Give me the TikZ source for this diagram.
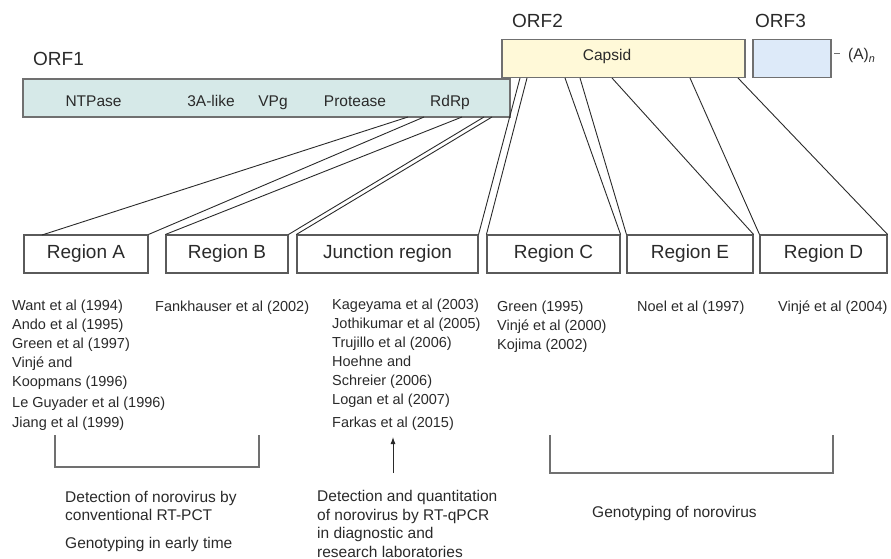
\documentclass[tikz,border=0pt]{standalone}
\usepackage{fontspec}
\setmainfont{Liberation Sans}
\usepackage{tikz}
\usetikzlibrary{arrows.meta}

\definecolor{orfonefill}{HTML}{D6E9E8}
\definecolor{orftwofill}{HTML}{FFF9D8}
\definecolor{orfthreefill}{HTML}{DDEAF9}
\definecolor{orfline}{HTML}{707070}
\definecolor{boxline}{HTML}{5A5A5A}
\definecolor{inkgray}{HTML}{2A2A2A}

\tikzset{
  orfbox/.style={draw=orfline, line width=1.2pt, minimum height=38pt, inner sep=0pt},
  regbox/.style={draw=boxline, line width=1.1pt, minimum height=38pt, inner sep=0pt,
    text=inkgray, font=\fontsize{19}{22}\selectfont},
  orflabel/.style={anchor=base west, inner sep=0pt, text=inkgray, font=\fontsize{19}{22}\selectfont},
  gene/.style={anchor=base, inner sep=0pt, text=inkgray, font=\fontsize{15.5}{18}\selectfont},
  reflist/.style={anchor=base west, align=left, inner sep=0pt, text=inkgray,
    font=\fontsize{14.5}{19}\selectfont},
  usage/.style={anchor=base west, align=left, inner sep=0pt, text=inkgray,
    font=\fontsize{15.5}{18.5}\selectfont},
  link/.style={draw=inkgray, line width=0.9pt},
  bracket/.style={draw=orfline, line width=1.3pt}
}

\begin{document}
\begin{tikzpicture}[x=1pt,y=-1pt]
    \useasboundingbox (0,0) rectangle (891,559);

    % genome
    \node[orfbox, fill=orfonefill, minimum width=487pt] (orf1) at (266.5,98) {};
    \node[orfbox, fill=orftwofill, minimum width=243pt] (orf2) at (623.5,58.5) {};
    \node[orfbox, fill=orfthreefill, minimum width=78pt] (orf3) at (792,58.5) {};

    \node[orflabel] (orf1lab) at (33,66) {ORF1};
    \node[orflabel] (orf2lab) at (512,28) {ORF2};
    \node[orflabel] (orf3lab) at (755,28) {ORF3};

    \node[gene] (ntpase) at (93.5,107) {NTPase};
    \node[gene] (threeA) at (211,107) {3A-like};
    \node[gene] (vpg) at (273,107) {VPg};
    \node[gene] (protease) at (355,107) {Protease};
    \node[gene] (rdrp) at (450,107) {RdRp};
    \node[gene] (capsid) at (607,61) {Capsid};
    \node[gene, anchor=base west] (polyA) at (848,60) {(A)\textsubscript{\textit{n}}};
    \draw[orfline, line width=1pt] (834,54) -- (840,54); % tail

    % regions
    \node[regbox, minimum width=124pt] (regA) at (86,254) {Region A};
    \node[regbox, minimum width=122pt] (regB) at (227,254) {\raisebox{-1.5pt}{Region B}};
    \node[regbox, minimum width=181pt] (regJ) at (387.5,254) {Junction region};
    \node[regbox, minimum width=133pt] (regC) at (553.5,254) {Region C};
    \node[regbox, minimum width=126pt] (regE) at (690,254) {Region E};
    \node[regbox, minimum width=127pt] (regD) at (823.5,254) {Region D};

    \coordinate (F1) at (408,117);
    \coordinate (F2) at (424,117);
    \coordinate (F3) at (462,117);
    \coordinate (F4) at (484,117);
    \coordinate (F5) at (492,117);
    \coordinate (G1) at (520,78);
    \coordinate (G2) at (527,78);
    \coordinate (G3) at (565,78);
    \coordinate (G4) at (580,78);
    \coordinate (G5) at (612,78);
    \coordinate (G6) at (690,78);
    \coordinate (G7) at (738,78);
    \coordinate (T0) at (42,235);

    \draw[link] (F1) -- (T0);
    \draw[link] (F2) -- (regA.north east);
    \draw[link] (F3) -- (regB.north west);
    \draw[link] (F4) -- (regB.north east);
    \draw[link] (F5) -- (regJ.north west);
    \draw[link] (G1) -- (regJ.north east);
    \draw[link] (G2) -- (regC.north west);
    \draw[link] (G3) -- (regC.north east);
    \draw[link] (G4) -- (regE.north west);
    \draw[link] (G5) -- (regE.north east);
    \draw[link] (G6) -- (regD.north west);
    \draw[link] (G7) -- (regD.north east);

    % references (base = last line)
    \node[reflist] (refA) at (12,427) {Want et al (1994)\\Ando et al (1995)\\Green et al (1997)\\Vinjé and\\Koopmans (1996)\\[2pt]Le Guyader et al (1996)\\[1pt]Jiang et al (1999)};
    \node[reflist] (refB) at (155,311) {Fankhauser et al (2002)};
    \node[reflist] (refJ) at (332,427) {Kageyama et al (2003)\\Jothikumar et al (2005)\\Trujillo et al (2006)\\Hoehne and\\Schreier (2006)\\Logan et al (2007)\\[4pt]Farkas et al (2015)};
    \node[reflist] (refC) at (497,349) {Green (1995)\\Vinjé et al (2000)\\Kojima (2002)};
    \node[reflist] (refE) at (637,311) {Noel et al (1997)};
    \node[reflist] (refD) at (778,311) {Vinjé et al (2004)};

    % uses
    \draw[bracket] (55,435) -- (55,467) -- (259,467) -- (259,435); % left
    \draw[bracket] (550,435) -- (550,473) -- (833,473) -- (833,435); % right
    \draw[link, -{Latex[length=7pt,width=5pt]}] (393,473) -- (393,437);

    \node[usage] (conv) at (65,548) {Detection of norovirus by\\conventional RT-PCT\\[9pt]Genotyping in early time};
    \node[usage] (qpcr) at (317,557) {Detection and quantitation\\of norovirus by RT-qPCR\\in diagnostic and\\research laboratories};
    \node[usage] (geno) at (592,517) {Genotyping of norovirus};
\end{tikzpicture}
\end{document}
